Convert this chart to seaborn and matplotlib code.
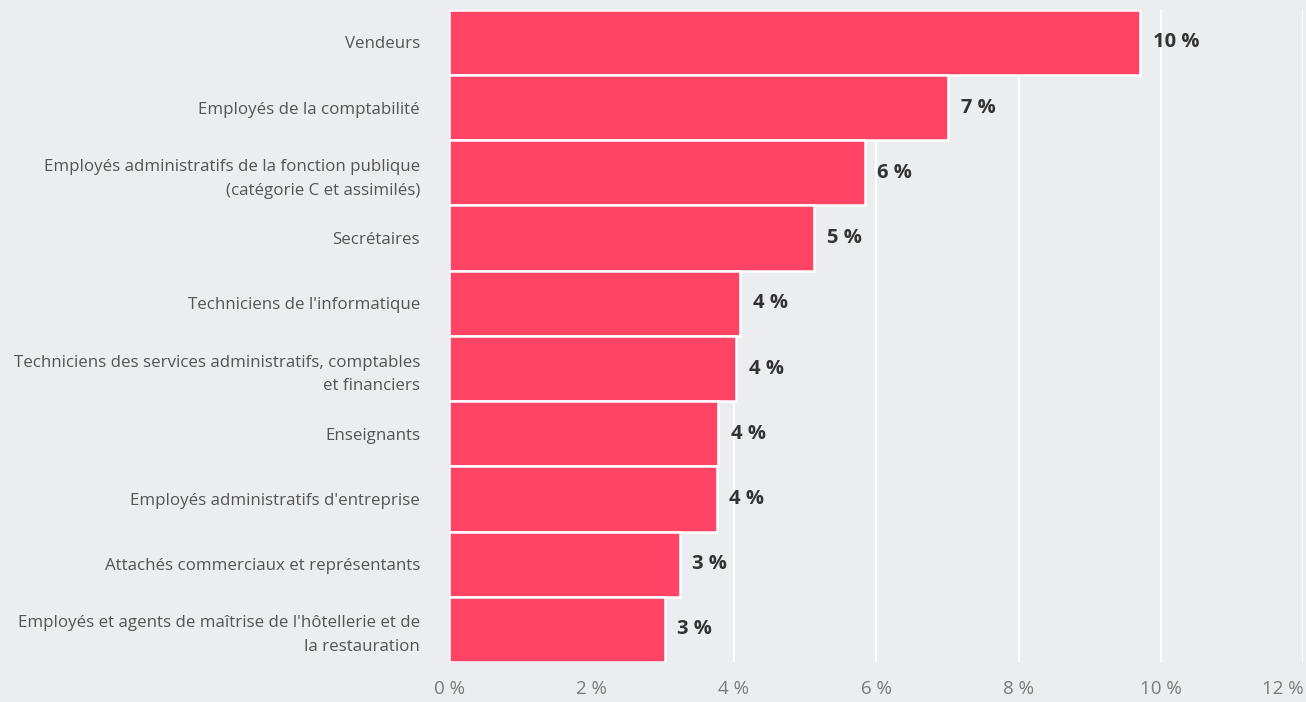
import pandas as pd
import numpy as np
import seaborn as sns
import matplotlib.pyplot as plt

# Data
metiers = ["Vendeurs",
           "Employés de la comptabilité",
           "Employés administratifs de la fonction publique\n(catégorie C et assimilés)",
           "Secrétaires",
           "Techniciens de l'informatique",
           "Techniciens des services administratifs, comptables\net financiers",
           "Enseignants",
           "Employés administratifs d'entreprise",
           "Attachés commerciaux et représentants",
           "Employés et agents de maîtrise de l'hôtellerie et de\nla restauration"]
parts = [9.71, 7.01, 5.84, 5.13, 4.09, 4.03, 3.78, 3.76, 3.24, 3.03]
ticks = [0, 2, 4, 6, 8, 10, 12]

df = pd.DataFrame({"metier": metiers, "part": parts})

bg = "#ecedf0"
sns.set_style("white")
plt.rcParams['font.family'] = ['Open Sans', 'DejaVu Sans']

fig = plt.figure(figsize=(13.06, 7.02), dpi=100, facecolor=bg)
ax = fig.add_axes([0.344, 0.057, 0.654, 0.929])
ax.set_facecolor(bg)

sns.barplot(data=df, y="metier", x="part", orient="h", color="#ff4466",
            saturation=1, width=1, edgecolor="white", linewidth=1.8,
            ax=ax, zorder=3)

# white vertical grid
ax.set_xlim(0, 12)
ax.set_xticks(ticks)
ax.set_xticklabels([f"{t} %" for t in ticks], color="#7a7a7a", fontsize=13.5)
ax.get_xticklabels()[-1].set_horizontalalignment("right")
ax.grid(axis="x", color="white", linewidth=1.5, zorder=0)
ax.set_axisbelow(True)
ax.set_ylim(len(metiers) - 0.5, -0.5)

for s in ax.spines.values():
    s.set_visible(False)
ax.tick_params(axis="x", length=0, pad=13)
ax.tick_params(axis="y", length=0, pad=21, labelsize=12.2, labelcolor="#555555")
for lab in ax.get_yticklabels():
    lab.set_linespacing(1.65)

ax.bar_label(ax.containers[0], labels=[f"{round(v)} %" for v in parts],
             padding=9, fontsize=14.5, fontweight="bold", fontstretch="normal",
             color="#333333")

ax.set_xlabel("")
ax.set_ylabel("")

fig.savefig("out.png", dpi=100, facecolor=bg)
